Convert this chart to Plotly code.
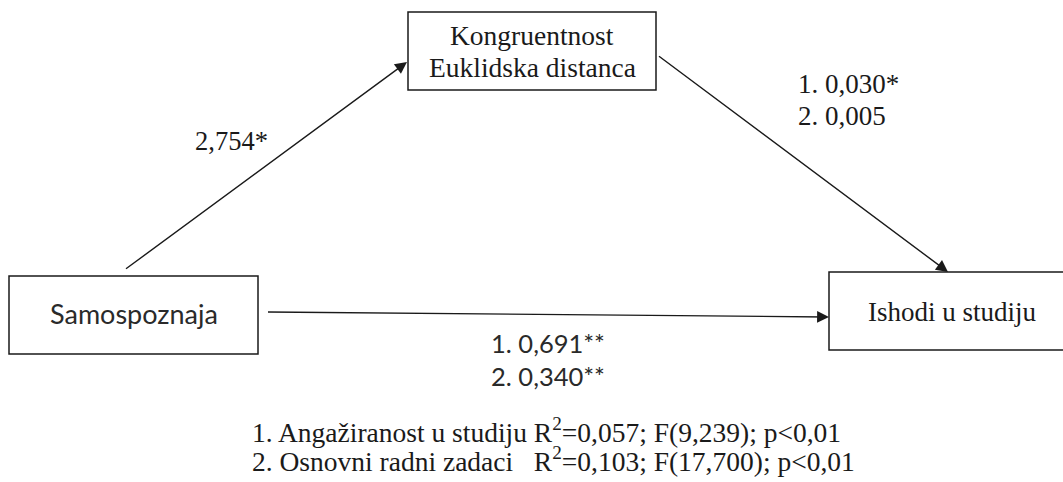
import plotly.graph_objects as go

# ---- data ----
node_labels = ["Samospoznaja", "Kongruentnost<br>Euklidska distanca", "Ishodi u studiju"]
mediator_lines = ["Kongruentnost", "Euklidska distanca"]
path_a = ["2,754*"]
path_b = ["1. 0,030*", "2. 0,005"]
path_c = ["1. 0,691**", "2. 0,340**"]
note_lines = [
    "1. Angažiranost u studiju R<sup>2</sup>=0,057; F(9,239); p<0,01",
    "2. Osnovni radni zadaci\u00a0\u00a0\u00a0R<sup>2</sup>=0,103; F(17,700); p<0,01",
]

# ---- layout geometry (pixels, y down) ----
W, H = 1063, 482
SERIF = "Liberation Serif, Times New Roman, serif"
SANS = "Lato, Carlito, Calibri, sans-serif"
INK = "#1a1a1a"

boxes = {
    "x": (9, 276, 258, 354),
    "m": (408, 12, 656, 90),
    "y": (829, 272, 1075, 350),
}

fig = go.Figure()
fig.add_trace(go.Scatter(x=[0], y=[0], mode="markers", marker=dict(opacity=0),
                         hoverinfo="skip", showlegend=False))

for key, (x0, y0, x1, y1) in boxes.items():
    fig.add_shape(type="rect", x0=x0, y0=y0, x1=x1, y1=y1, xref="x", yref="y",
                  line=dict(color=INK, width=1.5), fillcolor="white", layer="below")

ann = []
# node text
ann.append(dict(x=133.5, y=313, text=node_labels[0], font=dict(family=SANS, size=27, color="#2a2a2a")))
ann.append(dict(x=532, y=35, text=mediator_lines[0], font=dict(family=SERIF, size=27.5, color=INK)))
ann.append(dict(x=532, y=67, text=mediator_lines[1], font=dict(family=SERIF, size=27.5, color=INK)))
ann.append(dict(x=952, y=312, text=node_labels[2], font=dict(family=SERIF, size=27, color=INK)))

# path labels
ann.append(dict(x=231, y=141, text=path_a[0], font=dict(family=SERIF, size=26.5, color=INK)))
for i, yy in enumerate([84, 116]):
    ann.append(dict(x=796, y=yy, text=path_b[i], xanchor="left", font=dict(family=SERIF, size=27, color=INK)))
for i, yy in enumerate([343, 376]):
    ann.append(dict(x=489, y=yy, text=path_c[i], xanchor="left", font=dict(family=SANS, size=25.5, color="#2a2a2a")))

# note
for i, yy in enumerate([430, 459]):
    ann.append(dict(x=250, y=yy, text=note_lines[i], xanchor="left", font=dict(family=SERIF, size=27.5, color=INK)))

for a in ann:
    a.setdefault("xanchor", "center")
    a.update(xref="x", yref="y", showarrow=False, yanchor="middle")

# arrows
arrows = [((123, 271), (407, 62)), ((656, 54), (948, 272)), ((265, 312), (829, 317))]
for (tx, ty), (hx, hy) in arrows:
    ann.append(dict(x=hx, y=hy, ax=tx, ay=ty, xref="x", yref="y", axref="x", ayref="y",
                    showarrow=True, arrowhead=2, arrowsize=1.7, arrowwidth=1.4,
                    arrowcolor=INK, standoff=0, startstandoff=0, text=" "))

fig.update_layout(
    width=W, height=H, margin=dict(l=0, r=0, t=0, b=0),
    paper_bgcolor="white", plot_bgcolor="white",
    xaxis=dict(range=[0, W], visible=False, fixedrange=True),
    yaxis=dict(range=[H, 0], visible=False, fixedrange=True),
    annotations=ann, showlegend=False,
)
fig.write_html("out.html", config={"displayModeBar": False},
               post_script="document.body.style.margin='0';document.body.style.overflow='hidden';")
